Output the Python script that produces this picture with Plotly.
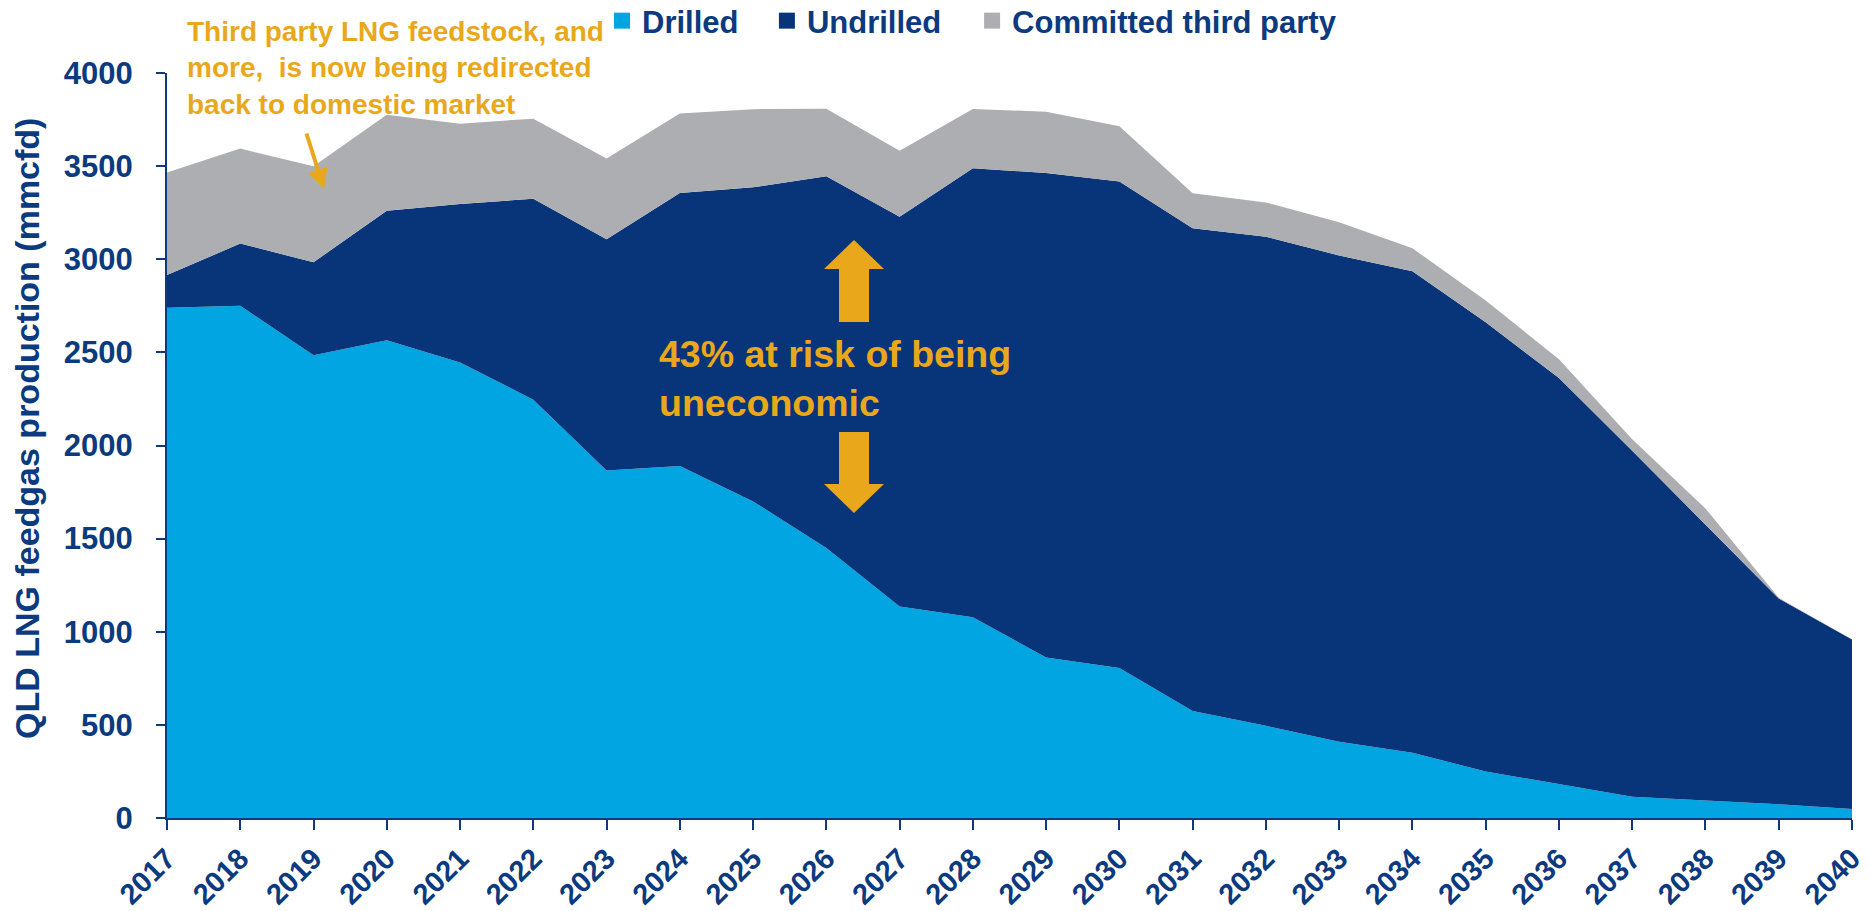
import plotly.graph_objects as go

years = list(range(2017, 2041))
drilled = [2740, 2750, 2484, 2565, 2446, 2246, 1866, 1890, 1700, 1450, 1136, 1078,
           862, 805, 574, 495, 410, 350, 250, 182, 114, 94, 74, 48]
undrilled_top = [2916, 3084, 2984, 3260, 3297, 3325, 3108, 3356, 3386, 3446, 3228, 3489,
                 3463, 3418, 3166, 3121, 3020, 2936, 2662, 2362, 1972, 1576, 1178, 958]
total_top = [3466, 3594, 3500, 3776, 3728, 3755, 3541, 3783, 3806, 3808, 3583, 3807,
             3792, 3714, 3355, 3305, 3198, 3059, 2779, 2463, 2034, 1662, 1183, 958]

undrilled = [u - d for u, d in zip(undrilled_top, drilled)]
committed = [t - u for t, u in zip(total_top, undrilled_top)]

series_names = ["Drilled", "Undrilled", "Committed third party"]
series_colors = ["#00A5E2", "#08357A", "#ADAEB2"]
y_ticks = [0, 500, 1000, 1500, 2000, 2500, 3000, 3500, 4000]

NAVY = "#0C3A7E"
ORANGE = "#E9A81B"
FONT = "Liberation Sans, Arial, sans-serif"
NBSP = "\u00a0"
THIN = "\u2009"

fig = go.Figure()
for name, vals, col in zip(series_names, [drilled, undrilled, committed], series_colors):
    fig.add_trace(go.Scatter(
        x=years, y=vals, name=name, stackgroup="one", mode="lines",
        line=dict(width=0, color=col), fillcolor=col, showlegend=False,
        hoverinfo="x+y+name"))

legend_labels = ["Drilled" + NBSP * 2 + THIN, "Undrilled" + NBSP * 3, "Committed third party"]
for lab, col in zip(legend_labels, series_colors):
    fig.add_trace(go.Scatter(
        x=[None], y=[None], mode="markers", name=lab,
        marker=dict(symbol="square", size=16, color=col), showlegend=True))

# geometry helpers (paper coordinates)
L, R, T, B = 167, 18, 73, 93
W, H = 1870, 911
pw, ph = W - L - R, H - T - B


def px_x(x):
    return (x - L) / pw


def px_y(y):
    return (H - B - y) / ph


fig.update_layout(
    width=W, height=H,
    margin=dict(l=L, r=R, t=T, b=B, autoexpand=False),
    paper_bgcolor="white", plot_bgcolor="white",
    font=dict(family=FONT, color=NAVY),
    showlegend=True,
    legend=dict(orientation="h", x=px_x(602), y=px_y(21), xanchor="left", yanchor="middle",
                traceorder="normal",
                font=dict(family=FONT, size=31, color=NAVY, weight="bold"),
                bgcolor="rgba(0,0,0,0)", itemclick=False, itemdoubleclick=False,
                tracegroupgap=0),
    xaxis=dict(
        range=[2017, 2040], tickmode="array", tickvals=years,
        ticktext=[str(y) for y in years], tickangle=-45,
        showline=True, linecolor=NAVY, linewidth=2,
        ticks="outside", ticklen=10, tickwidth=2, tickcolor=NAVY,
        showgrid=False, zeroline=False,
        tickfont=dict(family=FONT, size=29, color=NAVY, weight="bold"),
    ),
    yaxis=dict(
        range=[0, 4000], tickmode="array", tickvals=y_ticks,
        showline=True, linecolor=NAVY, linewidth=2,
        ticks="outside", ticklen=9, tickwidth=2, tickcolor=NAVY,
        showgrid=False, zeroline=False, ticklabelstandoff=17,
        tickfont=dict(family=FONT, size=31, color=NAVY, weight="bold"),
    ),
)

# y axis title
fig.add_annotation(
    text="QLD LNG feedgas production (mmcfd)", textangle=-90,
    xref="paper", yref="paper", x=px_x(27), y=px_y(429),
    xanchor="center", yanchor="middle", showarrow=False,
    font=dict(family=FONT, size=34, color=NAVY, weight="bold"))

# top-left note
fig.add_annotation(
    text="Third party LNG feedstock, and<br>more," + NBSP + " is now being redirected<br>back to domestic market",
    xref="paper", yref="paper", x=px_x(185), y=px_y(68),
    xanchor="left", yanchor="middle", align="left", showarrow=False,
    font=dict(family=FONT, size=28, color=ORANGE, weight="bold"))

# small arrow of the note
fig.add_annotation(
    text="", xref="paper", yref="paper", x=px_x(324), y=px_y(189),
    ax=-18, ay=-57, axref="pixel", ayref="pixel",
    showarrow=True, arrowhead=2, arrowsize=1, arrowwidth=4, arrowcolor=ORANGE, standoff=0)

# central note
fig.add_annotation(
    text="43% at risk of being<br>uneconomic",
    xref="paper", yref="paper", x=px_x(657), y=px_y(378),
    xanchor="left", yanchor="middle", align="left", showarrow=False,
    font=dict(family=FONT, size=37.5, color=ORANGE, weight="bold"))

# big up / down arrows (pixel-sized paths anchored at the note centre)
ax_anchor, ay_anchor = px_x(854), px_y(378)
up_path = "M -15,56 L -15,109 L -30,109 L 0,138 L 30,109 L 15,109 L 15,56 Z"
down_path = "M -15,-54 L -15,-106 L -30,-106 L 0,-135 L 30,-106 L 15,-106 L 15,-54 Z"
for p in (up_path, down_path):
    fig.add_shape(type="path", path=p, xref="paper", yref="paper",
                  xsizemode="pixel", ysizemode="pixel",
                  xanchor=ax_anchor, yanchor=ay_anchor,
                  fillcolor=ORANGE, line=dict(width=0), layer="above")

fig.write_html("out.html")
